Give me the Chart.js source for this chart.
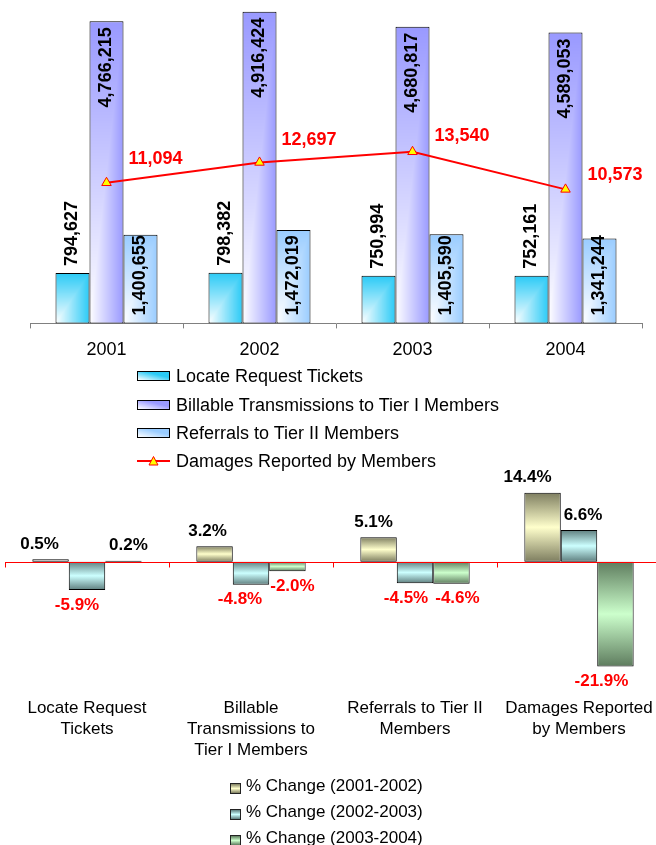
<!DOCTYPE html>
<html>
<head>
<meta charset="utf-8">
<title>Locate requests and damages</title>
<script src="https://cdn.jsdelivr.net/npm/chart.js@4.4.1/dist/chart.umd.min.js"></script>
<style>
html, body { margin:0; padding:0; background:#ffffff; }
body { position:relative; width:656px; height:845px; overflow:hidden; font-family:"Liberation Sans", Arial, sans-serif; color:#000; }
canvas { position:absolute; left:0; }
#c1 { top:0; }
#c2 { top:460px; }
.legrow { position:absolute; height:20px; line-height:20px; white-space:nowrap; }
.legrow .sw { position:absolute; box-sizing:border-box; }
.legrow .tx { position:absolute; top:0; }
#leg1 .tx { font-size:18px; }
#leg2 .tx { font-size:17px; }
</style>
</head>
<body>
<canvas id="c1" width="656" height="372"></canvas>
<div id="leg1"></div>
<canvas id="c2" width="670" height="317"></canvas>
<div id="leg2"></div>
<script>
// ---------- data ----------
const years = ['2001', '2002', '2003', '2004'];
const locateTickets = [794627, 798382, 750994, 752161];
const billableTierI = [4766215, 4916424, 4680817, 4589053];
const referralsTierII = [1400655, 1472019, 1405590, 1341244];
const damagesReported = [11094, 12697, 13540, 10573];
const topSeriesNames = ['Locate Request Tickets', 'Billable Transmissions to Tier I Members', 'Referrals to Tier II Members', 'Damages Reported by Members'];

const changeCategories = [['Locate Request', 'Tickets'], ['Billable', 'Transmissions to', 'Tier I Members'], ['Referrals to Tier II', 'Members'], ['Damages Reported', 'by Members']];
const change2001to2002 = [0.5, 3.2, 5.1, 14.4];
const change2002to2003 = [-5.9, -4.8, -4.5, 6.6];
const change2003to2004 = [0.2, -2.0, -4.6, -21.9];
const changeSeriesNames = ['% Change (2001-2002)', '% Change (2002-2003)', '% Change (2003-2004)'];

// ---------- styling helpers ----------
const FONT = '"Liberation Sans", Arial, sans-serif';
Chart.defaults.font.family = FONT;
Chart.defaults.color = '#000';
const CAT_PCT = 3 / 4.5;

const topColors = ['#2ACAF6', '#9999FF', '#99CCFF'];
const changeLight = ['#FFFFCC', '#CCFFFF', '#CCFFCC'];
const changeDark = ['#7E7E60', '#5F7F7F', '#5E7C5E'];

function rgb(hex) { const n = parseInt(hex.slice(1), 16); return [(n >> 16) & 255, (n >> 8) & 255, n & 255]; }

function barBox(chart, barIndex, barCount, dataIndex, value, yId) {
  const xs = chart.scales.x, ys = chart.scales[yId];
  const n = chart.data.labels.length;
  const cat = (xs.right - xs.left) / n;
  const cx = xs.getPixelForValue(dataIndex);
  const gw = cat * CAT_PCT, w = gw / barCount;
  const left = cx - gw / 2 + w * barIndex;
  const a = ys.getPixelForValue(value), b = ys.getPixelForValue(0);
  return { left, right: left + w, top: Math.min(a, b), bottom: Math.max(a, b) };
}

// rectangular "from corner" gradient: white at bottom-left, colour at top/right
function cornerFill(color) {
  return (ctx) => {
    const chart = ctx.chart;
    if (ctx.type !== 'data' || !chart.chartArea || !chart.scales.x || !chart.scales.y) return color;
    const bx = barBox(chart, ctx.datasetIndex, 3, ctx.dataIndex, ctx.raw, 'y');
    const x0 = Math.floor(bx.left) - 1, y0 = Math.floor(bx.top) - 1;
    const W = Math.ceil(bx.right) - x0 + 2, H = Math.ceil(bx.bottom) - y0 + 2;
    const off = document.createElement('canvas'); off.width = W; off.height = H;
    const oc = off.getContext('2d'); const img = oc.createImageData(W, H);
    const c0 = [255, 255, 255], c1 = rgb(color);
    const bw = Math.max(1, bx.right - bx.left), bh = Math.max(1, bx.bottom - bx.top);
    for (let py = 0; py < H; py++) {
      for (let px = 0; px < W; px++) {
        const u = Math.min(1, Math.max(0, (x0 + px + 0.5 - bx.left) / bw));
        const v = Math.min(1, Math.max(0, (bx.bottom - (y0 + py + 0.5)) / bh));
        const t = Math.max(u, v);
        const k = (py * W + px) * 4;
        img.data[k] = c0[0] + (c1[0] - c0[0]) * t;
        img.data[k + 1] = c0[1] + (c1[1] - c0[1]) * t;
        img.data[k + 2] = c0[2] + (c1[2] - c0[2]) * t;
        img.data[k + 3] = 255;
      }
    }
    oc.putImageData(img, 0, 0);
    const pat = chart.ctx.createPattern(off, 'no-repeat');
    pat.setTransform(new DOMMatrix([1, 0, 0, 1, x0, y0]));
    return pat;
  };
}

function vertFill(light, dark) {
  return (ctx) => {
    const chart = ctx.chart;
    if (ctx.type !== 'data' || !chart.chartArea || !chart.scales.x || !chart.scales.y) return light;
    const bx = barBox(chart, ctx.datasetIndex, 3, ctx.dataIndex, ctx.raw, 'y');
    if (bx.bottom - bx.top < 5) return '#FFFFFF';
    const g = chart.ctx.createLinearGradient(0, bx.top, 0, bx.bottom);
    g.addColorStop(0, dark); g.addColorStop(0.5, light); g.addColorStop(1, dark);
    return g;
  };
}

const fmt = (v) => v.toLocaleString('en-US');

// ---------- plugins ----------
const topLabels = {
  id: 'topLabels',
  afterDatasetsDraw(chart, args, opts) {
    const ctx = chart.ctx;
    ctx.save();
    ctx.font = 'bold 18px ' + FONT;
    ctx.textBaseline = 'middle';
    chart.data.datasets.forEach((ds, di) => {
      const meta = chart.getDatasetMeta(di);
      meta.data.forEach((el, i) => {
        const txt = fmt(ds.data[i]);
        if (meta.type === 'line') {
          ctx.fillStyle = '#FF0000';
          ctx.textAlign = 'left';
          ctx.fillText(txt, el.x + opts.lineDx, el.y + opts.lineDy[i]);
          return;
        }
        const mode = opts.barModes[di];
        let ay, align;
        if (mode === 'outsideEnd') { ay = el.y - 7; align = 'left'; }
        else if (mode === 'insideEnd') { ay = el.y + 6; align = 'right'; }
        else { ay = el.base - 8; align = 'left'; }
        ctx.save();
        ctx.fillStyle = '#000';
        ctx.translate(el.x, ay);
        ctx.rotate(-Math.PI / 2);
        ctx.textAlign = align;
        ctx.fillText(txt, 0, 0);
        ctx.restore();
      });
    });
    ctx.restore();
  }
};

const zeroLine = {
  id: 'zeroLine',
  afterDatasetsDraw(chart) {
    const ctx = chart.ctx, ca = chart.chartArea;
    const xs = chart.scales.x, ys = chart.scales.y;
    const y0 = Math.round(ys.getPixelForValue(0)) + 0.5;
    ctx.save();
    ctx.strokeStyle = '#FF0000';
    ctx.lineWidth = 1;
    ctx.beginPath();
    ctx.moveTo(ca.left, y0); ctx.lineTo(ca.right, y0);
    for (let i = 0; i <= chart.data.labels.length; i++) {
      const x = Math.round(xs.getPixelForValue(i - 0.5)) + 0.5;
      ctx.moveTo(x, y0); ctx.lineTo(x, y0 + 5);
    }
    ctx.stroke();
    ctx.restore();
  }
};

const changeLabels = {
  id: 'changeLabels',
  afterDatasetsDraw(chart, args, opts) {
    const ctx = chart.ctx;
    ctx.save();
    ctx.font = 'bold 17px ' + FONT;
    ctx.textAlign = 'center';
    ctx.textBaseline = 'middle';
    chart.data.datasets.forEach((ds, di) => {
      const meta = chart.getDatasetMeta(di);
      meta.data.forEach((el, i) => {
        const v = ds.data[i];
        const x = el.x + opts.dx[di][i];
        const y = v >= 0 ? el.y - opts.gap : el.y + opts.gap;
        ctx.fillStyle = v >= 0 ? '#000000' : '#FF0000';
        ctx.fillText(v.toFixed(1) + '%', x, y);
      });
    });
    ctx.restore();
  }
};

// ---------- top chart ----------
const barCommon = { yAxisID: 'y', order: 1, borderColor: '#000000', borderWidth: 1, borderSkipped: false, categoryPercentage: CAT_PCT, barPercentage: 1 };
new Chart(document.getElementById('c1'), {
  type: 'bar',
  data: {
    labels: years,
    datasets: [
      Object.assign({ label: topSeriesNames[0], data: locateTickets, backgroundColor: cornerFill(topColors[0]) }, barCommon),
      Object.assign({ label: topSeriesNames[1], data: billableTierI, backgroundColor: cornerFill(topColors[1]) }, barCommon),
      Object.assign({ label: topSeriesNames[2], data: referralsTierII, backgroundColor: cornerFill(topColors[2]) }, barCommon),
      { type: 'line', label: topSeriesNames[3], data: damagesReported, yAxisID: 'y2', order: 0,
        borderColor: '#FF0000', borderWidth: 2, tension: 0, fill: false,
        pointStyle: 'triangle', pointRadius: 5.5, pointBackgroundColor: '#FFFF00', pointBorderColor: '#FF0000', pointBorderWidth: 1 }
    ]
  },
  options: {
    responsive: false, animation: false, events: [],
    layout: { padding: { left: 30, right: 14, top: 4, bottom: 0 } },
    plugins: {
      legend: { display: false }, tooltip: { enabled: false },
      topLabels: { barModes: ['outsideEnd', 'insideEnd', 'insideBase'], lineDx: 22, lineDy: [-24, -22, -16, -14] }
    },
    scales: {
      x: {
        offset: true,
        grid: { display: true, offset: true, drawOnChartArea: false, drawTicks: true, tickLength: 5, color: '#808080' },
        border: { display: true, color: '#808080', width: 1 },
        ticks: { font: { size: 18 }, color: '#000', padding: 11, maxRotation: 0, autoSkip: false }
      },
      y: { display: false, min: 0, max: 5000000 },
      y2: { display: false, min: 0, max: 25000, position: 'right' }
    }
  },
  plugins: [topLabels]
});

// ---------- bottom chart ----------
const changeSeries = [change2001to2002, change2002to2003, change2003to2004];
new Chart(document.getElementById('c2'), {
  type: 'bar',
  data: {
    labels: changeCategories,
    datasets: changeSeries.map((d, i) => ({
      label: changeSeriesNames[i], data: d,
      backgroundColor: vertFill(changeLight[i], changeDark[i]),
      borderColor: '#000000', borderWidth: 1, borderSkipped: false,
      categoryPercentage: CAT_PCT, barPercentage: 1
    }))
  },
  options: {
    responsive: false, animation: false, events: [],
    layout: { padding: { left: 5, right: 9, top: 6, bottom: 0 } },
    plugins: {
      legend: { display: false }, tooltip: { enabled: false },
      changeLabels: { gap: 15, dx: [[-11, -7, -5, -15], [-10, -11, -9, 4], [5, 5, 6, -14]] }
    },
    scales: {
      x: {
        offset: true,
        grid: { display: false, drawTicks: false },
        border: { display: false },
        ticks: { font: { size: 17, lineHeight: 1.25 }, color: '#000', padding: 16, maxRotation: 0, autoSkip: false }
      },
      y: { display: false, min: -25, max: 20 }
    }
  },
  plugins: [zeroLine, changeLabels]
});

// ---------- legends (HTML text) ----------
(function () {
  const leg1 = document.getElementById('leg1');
  topSeriesNames.forEach((name, i) => {
    const cy = 376.3 + i * 28.33;
    const row = document.createElement('div');
    row.className = 'legrow';
    row.style.left = '137px';
    row.style.top = (cy - 10) + 'px';
    let sw;
    if (i < 3) {
      sw = '<div class="sw" style="left:0;top:5px;width:33px;height:10px;border:1px solid #000;background:linear-gradient(to top right,#ffffff 0%,' + topColors[i] + ' 65%)"></div>';
    } else {
      sw = '<svg class="sw" style="left:0;top:4px" width="33" height="12"><line x1="0" y1="6" x2="33" y2="6" stroke="#FF0000" stroke-width="2"/><polygon points="16.5,1.5 21,10 12,10" fill="#FFFF00" stroke="#FF0000" stroke-width="1"/></svg>';
    }
    row.innerHTML = sw + '<span class="tx" style="left:39px"></span>';
    row.querySelector('.tx').textContent = name;
    leg1.appendChild(row);
  });
  const leg2 = document.getElementById('leg2');
  changeSeriesNames.forEach((name, i) => {
    const cy = 786 + i * 26;
    const row = document.createElement('div');
    row.className = 'legrow';
    row.style.left = '230px';
    row.style.top = (cy - 10) + 'px';
    row.innerHTML = '<div class="sw" style="left:0;top:7px;width:11px;height:11px;border:1px solid #222;background:linear-gradient(to bottom,' + changeDark[i] + ',' + changeLight[i] + ',' + changeDark[i] + ')"></div><span class="tx" style="left:16px"></span>';
    row.querySelector('.tx').textContent = name;
    leg2.appendChild(row);
  });
})();
</script>
</body>
</html>
